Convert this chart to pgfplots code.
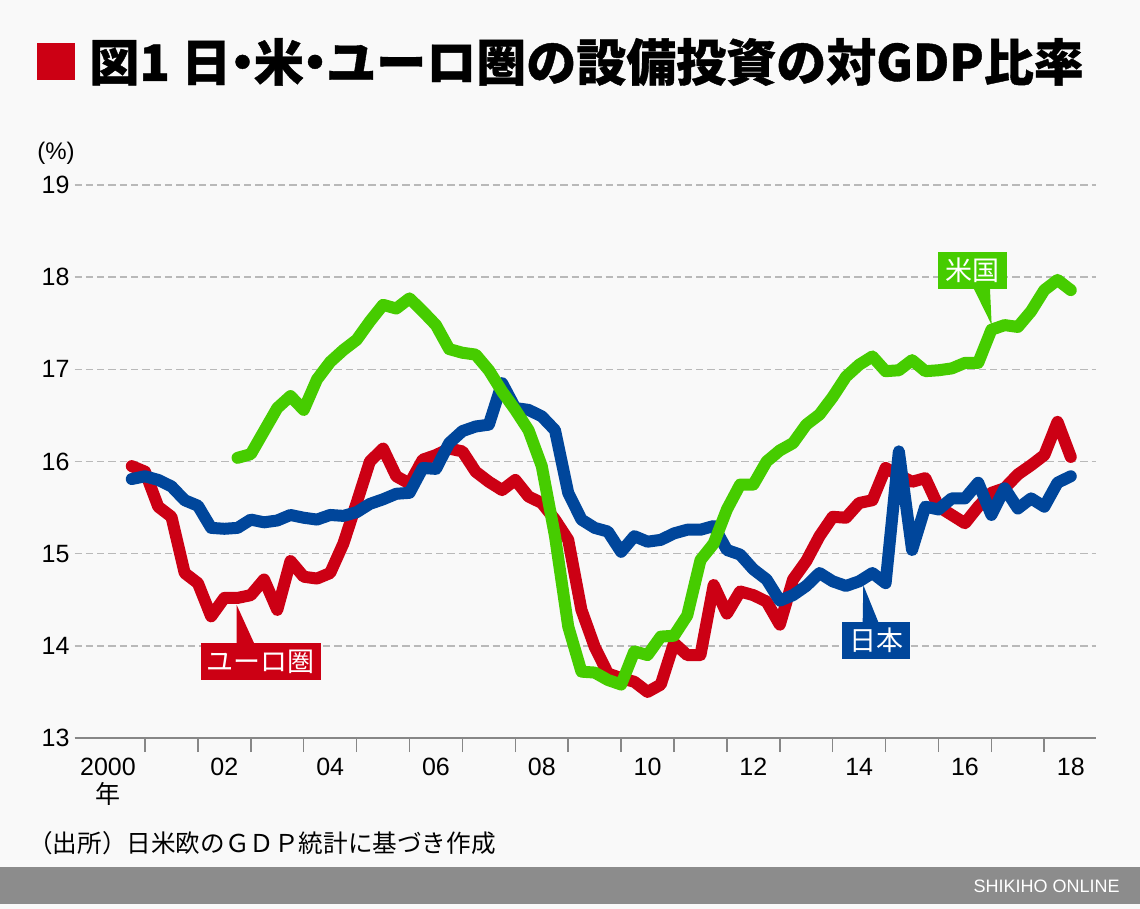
\documentclass[border=0pt]{standalone}
\usepackage{fontspec}
\setmainfont{Liberation Sans}
\newfontfamily\jp{Noto Sans CJK JP}
\newfontfamily\jpheavy{Noto Sans CJK JP}[FakeBold=0.8]
\usepackage{pgfplots}
\pgfplotsset{compat=1.18}
\usepackage{pgfplotstable}
\definecolor{eured}{RGB}{204,0,20}
\definecolor{jpblue}{RGB}{0,70,155}
\definecolor{usgreen}{RGB}{70,204,0}
\definecolor{bg}{RGB}{249,249,249}
\definecolor{gridgray}{RGB}{185,185,185}
\definecolor{axisgray}{RGB}{135,135,135}
\definecolor{footgray}{RGB}{140,140,140}
\newcommand{\ndot}{\makebox[0.45em][c]{・}}

\pgfplotstableread{
x eu jp
2000.75 15.95 15.81
2001.00 15.89 15.84
2001.25 15.51 15.80
2001.50 15.40 15.73
2001.75 14.79 15.58
2002.00 14.68 15.52
2002.25 14.32 15.28
2002.50 14.52 15.27
2002.75 14.52 15.28
2003.00 14.55 15.37
2003.25 14.72 15.34
2003.50 14.39 15.36
2003.75 14.92 15.42
2004.00 14.75 15.39
2004.25 14.73 15.37
2004.50 14.79 15.42
2004.75 15.11 15.41
2005.00 15.55 15.45
2005.25 16.00 15.54
2005.50 16.14 15.59
2005.75 15.84 15.65
2006.00 15.76 15.66
2006.25 16.02 15.93
2006.50 16.07 15.92
2006.75 16.14 16.20
2007.00 16.11 16.33
2007.25 15.89 16.38
2007.50 15.78 16.40
2007.75 15.69 16.85
2008.00 15.80 16.58
2008.25 15.62 16.56
2008.50 15.55 16.49
2008.75 15.37 16.34
2009.00 15.15 15.66
2009.25 14.39 15.37
2009.50 13.99 15.28
2009.75 13.70 15.24
2010.00 13.65 15.02
2010.25 13.61 15.19
2010.50 13.50 15.13
2010.75 13.58 15.15
2011.00 14.03 15.22
2011.25 13.90 15.26
2011.50 13.90 15.26
2011.75 14.66 15.30
2012.00 14.35 15.04
2012.25 14.59 14.99
2012.50 14.55 14.83
2012.75 14.48 14.72
2013.00 14.23 14.49
2013.25 14.72 14.55
2013.50 14.92 14.65
2013.75 15.19 14.79
2014.00 15.40 14.70
2014.25 15.39 14.65
2014.50 15.55 14.70
2014.75 15.58 14.79
2015.00 15.93 14.68
2015.25 15.85 16.11
2015.50 15.78 15.04
2015.75 15.82 15.51
2016.00 15.51 15.48
2016.25 15.42 15.60
2016.50 15.33 15.60
2016.75 15.51 15.77
2017.00 15.66 15.42
2017.25 15.71 15.71
2017.50 15.86 15.49
2017.75 15.96 15.60
2018.00 16.07 15.51
2018.25 16.43 15.77
2018.50 16.05 15.84
}\euJpData

\pgfplotstableread{
x us
2002.75 16.04
2003.00 16.08
2003.25 16.33
2003.50 16.58
2003.75 16.71
2004.00 16.56
2004.25 16.89
2004.50 17.08
2004.75 17.21
2005.00 17.32
2005.25 17.52
2005.50 17.70
2005.75 17.66
2006.00 17.77
2006.25 17.63
2006.50 17.48
2006.75 17.22
2007.00 17.18
2007.25 17.16
2007.50 16.99
2007.75 16.76
2008.00 16.56
2008.25 16.34
2008.50 15.95
2008.75 15.19
2009.00 14.21
2009.25 13.72
2009.50 13.71
2009.75 13.63
2010.00 13.58
2010.25 13.94
2010.50 13.90
2010.75 14.10
2011.00 14.11
2011.25 14.33
2011.50 14.93
2011.75 15.11
2012.00 15.48
2012.25 15.75
2012.50 15.75
2012.75 16.00
2013.00 16.12
2013.25 16.20
2013.50 16.40
2013.75 16.51
2014.00 16.70
2014.25 16.92
2014.50 17.05
2014.75 17.14
2015.00 16.98
2015.25 16.99
2015.50 17.10
2015.75 16.98
2016.00 16.99
2016.25 17.01
2016.50 17.07
2016.75 17.07
2017.00 17.43
2017.25 17.48
2017.50 17.46
2017.75 17.63
2018.00 17.86
2018.25 17.97
2018.50 17.86
}\usData

\begin{document}
\begin{tikzpicture}
\path[use as bounding box] (0,0) rectangle (570bp,-454.5bp);
\begin{scope}[x=0.5bp,y=-0.5bp]
\fill[bg] (0,0) rectangle (1140,909);
\fill[footgray] (0,867) rectangle (1140,904);
\node[anchor=east, text=white, inner sep=0, font=\fontsize{9bp}{10bp}\selectfont] at (1120,886) {SHIKIHO ONLINE};
\fill[eured] (37,43) rectangle (75,80);
\node[anchor=west, inner sep=0, font=\jpheavy\bfseries\fontsize{25bp}{27bp}\selectfont] at (89,62) {図1 日\ndot 米\ndot ユーロ圏の設備投資の対GDP比率};
\node[anchor=west, inner sep=0, font=\fontsize{12bp}{14bp}\selectfont] at (37,153) {(\%)};
\node[anchor=west, inner sep=0, font=\jp\fontsize{12.3bp}{14bp}\selectfont] at (28,843) {（出所）日米欧のＧＤＰ統計に基づき作成};
\end{scope}

\begin{axis}[
  at={(37.25bp,-369bp)}, anchor=south west,
  scale only axis, width=510.75bp, height=276.5bp,
  xmin=1999.667, xmax=2018.977, ymin=13, ymax=19,
  axis x line*=bottom, axis y line*=left,
  axis line style={-},
  x axis line style={draw=axisgray, line width=1.2bp},
  y axis line style={draw=none},
  ytick={13,14,...,19},
  ytick style={draw=none},
  xtick={2000.3,2002.5,2004.5,2006.5,2008.5,2010.5,2012.5,2014.5,2016.5,2018.5},
  xticklabels={{2000\\{\jp 年}},02,04,06,08,10,12,14,16,18},
  xtick style={draw=none},
  extra x ticks={2001,2002,...,2018},
  extra x tick labels={},
  extra x tick style={xtick style={draw=axisgray,line width=0.75bp}, major tick length=7bp, tick align=outside},
  ymajorgrids,
  grid style={draw=gridgray, line width=0.75bp, dash pattern=on 3.65bp off 2bp},
  ticklabel style={font=\fontsize{12.5bp}{14bp}\selectfont},
  /pgf/number format/assume math mode=true,
  xticklabel style={anchor=north, yshift=-6.5bp, align=center},
  yticklabel style={anchor=east, xshift=1bp},
  clip=false,
]
\addplot[eured, line width=6bp, line join=round, line cap=round] table[x=x, y=eu] {\euJpData};
\addplot[jpblue, line width=6bp, line join=round, line cap=round] table[x=x, y=jp] {\euJpData};
\addplot[usgreen, line width=6bp, line join=round, line cap=round] table[x=x, y=us] {\usData};
\end{axis}

\begin{scope}[x=0.5bp,y=-0.5bp]
\fill[usgreen] (974,289) -- (990,289) -- (991.7,325) -- cycle;
\node[fill=usgreen, text=white, minimum width=34.5bp, minimum height=18.8bp, inner sep=0, font=\jp\fontsize{13.5bp}{14bp}\selectfont] at (972.2,270.5) {米国};
\fill[jpblue] (862.7,622) -- (878.3,622) -- (863.3,585) -- cycle;
\node[fill=jpblue, text=white, minimum width=34bp, minimum height=18.8bp, inner sep=0, font=\jp\fontsize{13.5bp}{14bp}\selectfont] at (876.2,640.5) {日本};
\fill[eured] (236.7,643) -- (254,643) -- (236.7,605) -- cycle;
\node[fill=eured, text=white, minimum width=60bp, minimum height=18.8bp, inner sep=0, font=\jp\fontsize{13.5bp}{14bp}\selectfont] at (260.7,661.4) {ユーロ圏};
\end{scope}
\end{tikzpicture}
\end{document}
